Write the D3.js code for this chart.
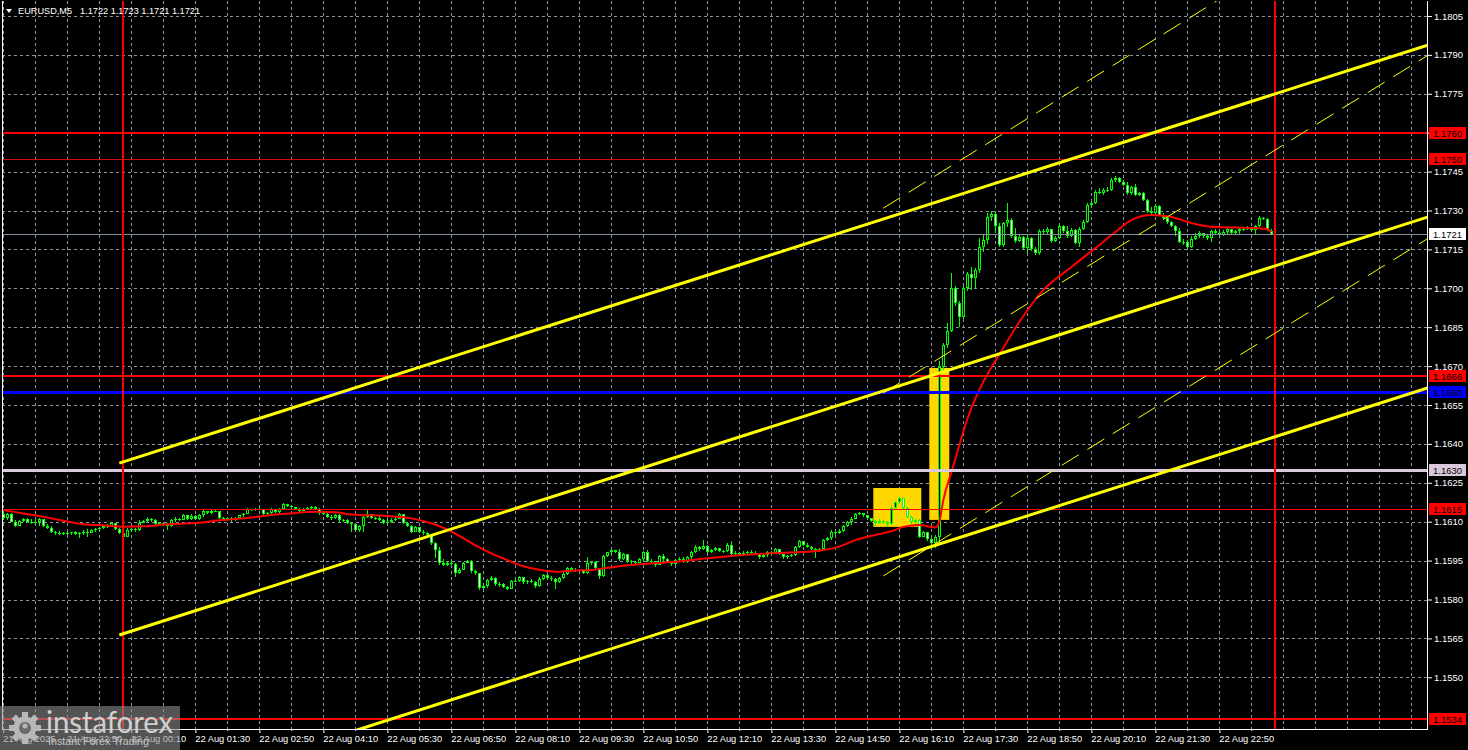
<!DOCTYPE html>
<html><head><meta charset="utf-8">
<script src="https://cdn.jsdelivr.net/npm/d3@7"></script>
<style>body{margin:0;background:#000;overflow:hidden}svg{display:block}</style>
</head><body><svg id="c" width="1468" height="750"></svg>
<script>
// ---------- DATA ----------
const symbolTitle = "EURUSD,M5";
const headerOHLC = "1.1722 1.1723 1.1721 1.1721";
const firstBar = -30;   // bar index of 21 Aug 21:30 (0 = 22 Aug 00:00), M5 bars
const open = [
1.16128,1.16113,1.16128,1.16100,1.16085,1.16104,1.16110,1.16098,1.16094,1.16100,
1.16110,1.16085,1.16075,1.16060,1.16056,1.16055,1.16058,1.16055,1.16059,1.16054,
1.16058,1.16062,1.16058,1.16068,1.16071,1.16074,1.16084,1.16080,1.16094,1.16072,
1.16058,1.16042,1.16068,1.16070,1.16068,1.16096,1.16102,1.16112,1.16106,1.16090,
1.16096,1.16088,1.16084,1.16108,1.16112,1.16108,1.16124,1.16112,1.16122,1.16110,
1.16124,1.16140,1.16134,1.16142,1.16140,1.16114,1.16108,1.16114,1.16106,1.16116,
1.16124,1.16130,1.16148,1.16145,1.16150,1.16148,1.16130,1.16134,1.16148,1.16138,
1.16150,1.16168,1.16160,1.16155,1.16148,1.16142,1.16150,1.16152,1.16155,1.16150,
1.16135,1.16130,1.16120,1.16114,1.16126,1.16106,1.16108,1.16094,1.16090,1.16068,
1.16082,1.16118,1.16128,1.16114,1.16116,1.16108,1.16096,1.16098,1.16108,1.16112,
1.16128,1.16096,1.16084,1.16062,1.16078,1.16062,1.16056,1.16048,1.16018,1.15990,
1.15940,1.15934,1.15942,1.15936,1.15902,1.15914,1.15942,1.15948,1.15910,1.15902,
1.15846,1.15852,1.15875,1.15884,1.15858,1.15860,1.15850,1.15842,1.15872,1.15870,
1.15886,1.15866,1.15870,1.15866,1.15852,1.15880,1.15894,1.15884,1.15878,1.15868,
1.15884,1.15898,1.15920,1.15914,1.15912,1.15914,1.15904,1.15940,1.15946,1.15920,
1.15890,1.15968,1.15982,1.15990,1.15984,1.15956,1.15974,1.15948,1.15944,1.15942,
1.15956,1.15984,1.15950,1.15948,1.15934,1.15968,1.15956,1.15946,1.15936,1.15952,
1.15958,1.15944,1.15962,1.15982,1.16004,1.15994,1.16006,1.15982,1.15992,1.15998,
1.15988,1.15986,1.16010,1.15975,1.15980,1.15972,1.15980,1.15984,1.15978,1.15976,
1.15964,1.15970,1.15982,1.15978,1.15994,1.15974,1.15962,1.15968,1.15970,1.16002,
1.16024,1.16012,1.16004,1.15996,1.15986,1.15994,1.16028,1.16036,1.16060,1.16058,
1.16066,1.16084,1.16100,1.16112,1.16128,1.16132,1.16124,1.16114,1.16104,1.16096,
1.16104,1.16100,1.16090,1.16152,1.16176,1.16190,1.16154,1.16120,1.16098,1.16108,
1.16042,1.16060,1.16032,1.16016,1.16042,1.16698,1.16780,1.16834,1.17002,1.16942,
1.16890,1.17000,1.17056,1.17040,1.17070,1.17160,1.17186,1.17276,1.17288,1.17240,
1.17168,1.17250,1.17262,1.17200,1.17182,1.17198,1.17156,1.17195,1.17150,1.17135,
1.17220,1.17218,1.17228,1.17182,1.17195,1.17240,1.17222,1.17200,1.17226,1.17175,
1.17230,1.17255,1.17321,1.17330,1.17373,1.17366,1.17380,1.17379,1.17418,1.17424,
1.17411,1.17399,1.17366,1.17392,1.17360,1.17366,1.17341,1.17300,1.17290,1.17318,
1.17284,1.17270,1.17255,1.17240,1.17222,1.17180,1.17178,1.17160,1.17190,1.17200,
1.17212,1.17200,1.17193,1.17220,1.17212,1.17206,1.17218,1.17228,1.17212,1.17222,
1.17230,1.17228,1.17234,1.17226,1.17240,1.17272,1.17268,1.17220];
const high = [
1.16140,1.16135,1.16132,1.16106,1.16108,1.16115,1.16116,1.16110,1.16112,1.16115,
1.16112,1.16090,1.16082,1.16066,1.16063,1.16062,1.16063,1.16062,1.16063,1.16062,
1.16068,1.16070,1.16072,1.16075,1.16078,1.16088,1.16090,1.16098,1.16096,1.16076,
1.16062,1.16074,1.16074,1.16075,1.16106,1.16108,1.16118,1.16116,1.16110,1.16100,
1.16100,1.16094,1.16112,1.16118,1.16116,1.16130,1.16126,1.16128,1.16124,1.16128,
1.16144,1.16142,1.16146,1.16150,1.16142,1.16118,1.16118,1.16118,1.16118,1.16126,
1.16134,1.16152,1.16150,1.16154,1.16155,1.16150,1.16138,1.16152,1.16150,1.16154,
1.16172,1.16170,1.16165,1.16158,1.16152,1.16154,1.16156,1.16160,1.16160,1.16152,
1.16140,1.16134,1.16124,1.16130,1.16128,1.16112,1.16110,1.16100,1.16092,1.16086,
1.16122,1.16150,1.16130,1.16120,1.16122,1.16112,1.16110,1.16114,1.16118,1.16134,
1.16130,1.16100,1.16088,1.16084,1.16080,1.16068,1.16060,1.16052,1.16022,1.16004,
1.15956,1.15948,1.15955,1.15940,1.15920,1.15946,1.15954,1.15952,1.15912,1.15904,
1.15862,1.15880,1.15890,1.15888,1.15866,1.15862,1.15852,1.15875,1.15882,1.15890,
1.15888,1.15874,1.15878,1.15870,1.15885,1.15898,1.15898,1.15892,1.15882,1.15888,
1.15906,1.15924,1.15926,1.15920,1.15918,1.15916,1.15962,1.15950,1.15948,1.15922,
1.15972,1.15985,1.15994,1.15992,1.15995,1.15980,1.15976,1.15952,1.15950,1.15960,
1.15988,1.15990,1.15958,1.15950,1.15972,1.15974,1.15960,1.15950,1.15956,1.15962,
1.15962,1.15966,1.15986,1.16010,1.16008,1.16030,1.16010,1.15996,1.16004,1.16000,
1.15992,1.16016,1.16026,1.15986,1.15984,1.15986,1.15988,1.15990,1.15986,1.15978,
1.15976,1.15986,1.15986,1.16000,1.15996,1.15976,1.15972,1.15974,1.16008,1.16030,
1.16026,1.16016,1.16006,1.16000,1.16000,1.16034,1.16040,1.16068,1.16064,1.16070,
1.16088,1.16104,1.16118,1.16132,1.16136,1.16134,1.16126,1.16116,1.16108,1.16110,
1.16108,1.16104,1.16160,1.16180,1.16194,1.16192,1.16158,1.16122,1.16112,1.16110,
1.16064,1.16062,1.16036,1.16048,1.16720,1.16790,1.16866,1.17058,1.17010,1.16950,
1.17010,1.17062,1.17082,1.17078,1.17195,1.17210,1.17290,1.17300,1.17300,1.17250,
1.17255,1.17328,1.17270,1.17232,1.17205,1.17200,1.17205,1.17198,1.17160,1.17228,
1.17228,1.17235,1.17230,1.17200,1.17250,1.17246,1.17240,1.17232,1.17228,1.17235,
1.17262,1.17330,1.17335,1.17378,1.17385,1.17385,1.17392,1.17424,1.17432,1.17430,
1.17418,1.17410,1.17395,1.17402,1.17372,1.17370,1.17345,1.17312,1.17325,1.17320,
1.17290,1.17275,1.17260,1.17245,1.17232,1.17190,1.17185,1.17200,1.17212,1.17222,
1.17215,1.17205,1.17226,1.17228,1.17220,1.17225,1.17236,1.17230,1.17226,1.17232,
1.17236,1.17240,1.17238,1.17245,1.17280,1.17276,1.17272,1.17230];
const low = [
1.16108,1.16105,1.16098,1.16078,1.16082,1.16098,1.16094,1.16090,1.16090,1.16085,
1.16080,1.16070,1.16058,1.16050,1.16050,1.16049,1.16050,1.16048,1.16050,1.16036,
1.16050,1.16040,1.16055,1.16060,1.16062,1.16070,1.16076,1.16078,1.16068,1.16052,
1.16036,1.16040,1.16062,1.16062,1.16065,1.16094,1.16098,1.16100,1.16085,1.16086,
1.16082,1.16068,1.16080,1.16100,1.16102,1.16106,1.16108,1.16108,1.16106,1.16106,
1.16120,1.16130,1.16130,1.16136,1.16110,1.16104,1.16104,1.16100,1.16104,1.16110,
1.16120,1.16128,1.16140,1.16142,1.16144,1.16126,1.16126,1.16130,1.16134,1.16135,
1.16148,1.16155,1.16150,1.16145,1.16138,1.16140,1.16144,1.16146,1.16144,1.16126,
1.16124,1.16116,1.16108,1.16110,1.16100,1.16100,1.16090,1.16060,1.16064,1.16062,
1.16060,1.16114,1.16110,1.16108,1.16104,1.16092,1.16090,1.16094,1.16102,1.16110,
1.16092,1.16078,1.16056,1.16060,1.16058,1.16050,1.16042,1.16010,1.15960,1.15932,
1.15928,1.15930,1.15928,1.15888,1.15898,1.15912,1.15940,1.15904,1.15896,1.15836,
1.15840,1.15846,1.15870,1.15852,1.15850,1.15844,1.15836,1.15840,1.15866,1.15866,
1.15860,1.15860,1.15862,1.15846,1.15850,1.15876,1.15880,1.15872,1.15840,1.15862,
1.15880,1.15895,1.15910,1.15906,1.15906,1.15898,1.15900,1.15932,1.15916,1.15880,
1.15886,1.15962,1.15975,1.15980,1.15950,1.15952,1.15942,1.15936,1.15936,1.15940,
1.15950,1.15944,1.15942,1.15926,1.15932,1.15950,1.15942,1.15930,1.15932,1.15948,
1.15940,1.15940,1.15958,1.15978,1.15988,1.15990,1.15978,1.15978,1.15986,1.15984,
1.15980,1.15982,1.15970,1.15972,1.15966,1.15968,1.15976,1.15972,1.15970,1.15958,
1.15960,1.15964,1.15972,1.15974,1.15970,1.15956,1.15958,1.15962,1.15966,1.15998,
1.16006,1.15998,1.15990,1.15960,1.15982,1.15990,1.16024,1.16030,1.16050,1.16052,
1.16060,1.16080,1.16088,1.16110,1.16124,1.16118,1.16110,1.16098,1.16082,1.16090,
1.16092,1.16084,1.16086,1.16148,1.16168,1.16150,1.16116,1.16092,1.16084,1.16038,
1.16040,1.16026,1.15995,1.16000,1.16010,1.16672,1.16770,1.16830,1.16930,1.16850,
1.16880,1.16990,1.16995,1.16998,1.17060,1.17140,1.17170,1.17260,1.17215,1.17160,
1.17160,1.17236,1.17195,1.17175,1.17178,1.17150,1.17132,1.17145,1.17128,1.17130,
1.17210,1.17205,1.17175,1.17178,1.17190,1.17215,1.17195,1.17198,1.17170,1.17160,
1.17225,1.17250,1.17315,1.17325,1.17362,1.17360,1.17372,1.17375,1.17408,1.17405,
1.17395,1.17360,1.17358,1.17355,1.17355,1.17335,1.17290,1.17280,1.17285,1.17280,
1.17262,1.17248,1.17235,1.17200,1.17175,1.17168,1.17150,1.17155,1.17185,1.17195,
1.17195,1.17188,1.17180,1.17205,1.17200,1.17200,1.17205,1.17208,1.17205,1.17208,
1.17222,1.17224,1.17220,1.17210,1.17236,1.17262,1.17220,1.17210];
const close = [
1.16113,1.16128,1.16100,1.16085,1.16104,1.16110,1.16098,1.16094,1.16100,1.16110,
1.16085,1.16075,1.16060,1.16056,1.16055,1.16058,1.16055,1.16059,1.16054,1.16058,
1.16062,1.16058,1.16068,1.16071,1.16074,1.16084,1.16080,1.16094,1.16072,1.16058,
1.16042,1.16068,1.16070,1.16068,1.16096,1.16102,1.16112,1.16106,1.16090,1.16096,
1.16088,1.16084,1.16108,1.16112,1.16108,1.16124,1.16112,1.16122,1.16110,1.16124,
1.16140,1.16134,1.16142,1.16140,1.16114,1.16108,1.16114,1.16106,1.16116,1.16124,
1.16130,1.16148,1.16145,1.16150,1.16148,1.16130,1.16134,1.16148,1.16138,1.16150,
1.16168,1.16160,1.16155,1.16148,1.16142,1.16150,1.16152,1.16155,1.16150,1.16135,
1.16130,1.16120,1.16114,1.16126,1.16106,1.16108,1.16094,1.16090,1.16068,1.16082,
1.16118,1.16128,1.16114,1.16116,1.16108,1.16096,1.16098,1.16108,1.16112,1.16128,
1.16096,1.16084,1.16062,1.16078,1.16062,1.16056,1.16048,1.16018,1.15990,1.15940,
1.15934,1.15942,1.15936,1.15902,1.15914,1.15942,1.15948,1.15910,1.15902,1.15846,
1.15852,1.15875,1.15884,1.15858,1.15860,1.15850,1.15842,1.15872,1.15870,1.15886,
1.15866,1.15870,1.15866,1.15852,1.15880,1.15894,1.15884,1.15878,1.15868,1.15884,
1.15898,1.15920,1.15914,1.15912,1.15914,1.15904,1.15940,1.15946,1.15920,1.15890,
1.15968,1.15982,1.15990,1.15984,1.15956,1.15974,1.15948,1.15944,1.15942,1.15956,
1.15984,1.15950,1.15948,1.15934,1.15968,1.15956,1.15946,1.15936,1.15952,1.15958,
1.15944,1.15962,1.15982,1.16004,1.15994,1.16006,1.15982,1.15992,1.15998,1.15988,
1.15986,1.16010,1.15975,1.15980,1.15972,1.15980,1.15984,1.15978,1.15976,1.15964,
1.15970,1.15982,1.15978,1.15994,1.15974,1.15962,1.15968,1.15970,1.16002,1.16024,
1.16012,1.16004,1.15996,1.15986,1.15994,1.16028,1.16036,1.16060,1.16058,1.16066,
1.16084,1.16100,1.16112,1.16128,1.16132,1.16124,1.16114,1.16104,1.16096,1.16104,
1.16100,1.16090,1.16152,1.16176,1.16190,1.16154,1.16120,1.16098,1.16108,1.16042,
1.16060,1.16032,1.16016,1.16042,1.16698,1.16780,1.16834,1.17002,1.16942,1.16890,
1.17000,1.17056,1.17040,1.17070,1.17160,1.17186,1.17276,1.17288,1.17240,1.17168,
1.17250,1.17262,1.17200,1.17182,1.17198,1.17156,1.17195,1.17150,1.17135,1.17220,
1.17218,1.17228,1.17182,1.17195,1.17240,1.17222,1.17200,1.17226,1.17175,1.17230,
1.17255,1.17321,1.17330,1.17373,1.17366,1.17380,1.17379,1.17418,1.17424,1.17411,
1.17399,1.17366,1.17392,1.17360,1.17366,1.17341,1.17300,1.17290,1.17318,1.17284,
1.17270,1.17255,1.17240,1.17222,1.17180,1.17178,1.17160,1.17190,1.17200,1.17212,
1.17200,1.17193,1.17220,1.17212,1.17206,1.17218,1.17228,1.17212,1.17222,1.17230,
1.17228,1.17234,1.17226,1.17240,1.17272,1.17268,1.17226,1.17210];

// moving average (at these bars)
const maBar = [-30,-25,-20,-15,-10,-5,0,5,11,19,23,28,32,36,42,48,53,57,65,69,73,77,81,87,92,96,100,104,109,113,117,121,125,130,138,146,154,162,171,175,179,183,188,192,195,199,203,204,205,207,209,211,213,217,219,224,230,237,244,248,252,257,262,267,273,282,286,287];
const maValue = [1.16145,1.16132,1.16119,1.16104,1.16090,1.16086,1.16081,1.16082,1.16090,1.16096,1.16104,1.16110,1.16116,1.16124,1.16132,1.16138,1.16136,1.16128,1.16123,1.16119,1.16110,1.16094,1.16070,1.16018,1.15978,1.15952,1.15928,1.15915,1.15907,1.15912,1.15914,1.15922,1.15930,1.15937,1.15946,1.15959,1.15971,1.15978,1.15984,1.15991,1.16004,1.16029,1.16049,1.16063,1.16080,1.16087,1.16078,1.16100,1.16183,1.16290,1.16395,1.16495,1.16575,1.16695,1.16745,1.16870,1.16993,1.17082,1.17167,1.17217,1.17263,1.17283,1.17275,1.17252,1.17236,1.17233,1.17229,1.17217];

const priceTicks = [1.1550,1.1565,1.1580,1.1595,1.1610,1.1625,1.1640,1.1655,1.1670,1.1685,1.1700,1.1715,1.1730,1.1745,1.1760,1.1775,1.1790,1.1805];
const timeLabels = ["21 Aug 2025","21 Aug 22:50","22 Aug 00:10","22 Aug 01:30","22 Aug 02:50","22 Aug 04:10","22 Aug 05:30","22 Aug 06:50","22 Aug 08:10","22 Aug 09:30","22 Aug 10:50","22 Aug 12:10","22 Aug 13:30","22 Aug 14:50","22 Aug 16:10","22 Aug 17:30","22 Aug 18:50","22 Aug 20:10","22 Aug 21:30","22 Aug 22:50"];

// horizontal levels
const levelPrices = [1.1760, 1.1750, 1.1666, 1.1660, 1.1630, 1.1615, 1.1534];
// vertical day separators (bar index: 22 Aug 00:00, 23 Aug 00:00)
const vlineBars = [0, 288];
// yellow rectangles [startBar, endBar, topPrice, bottomPrice]
const boxStart = [188, 202], boxEnd = [200, 207];
const boxTop = [1.16230, 1.16693], boxBottom = [1.16080, 1.16107];
// main channel (bar -1 -> bar 287)
const chanBars = [-1, 287];
const chanUpper = [1.16326, 1.17745];
const chanMiddle = [1.15663, 1.17082];
const chanLower = [1.15004, 1.16423];
// thin dashed channel (bar 190 -> bar 287)
const thinBars = [190, 287];
const thinUpper = [1.17309, 1.18239];
const thinMiddle = [1.16596, 1.17524];
const thinLower = [1.15891, 1.16818];

// ---------- DRAW ----------
const L = 2, R = 1427, T = 1, B = 729;
const svg = d3.select('#c');
const FONT = "'Liberation Sans', Arial, sans-serif";
svg.append('rect').attr('width',1468).attr('height',750).attr('fill','#000');

const x = d3.scaleLinear().domain([-30, 287]).range([3.3, 1271.3]);
const y = d3.scaleLinear().domain([1.1550, 1.1805]).range([677.3, 16]);

svg.append('clipPath').attr('id','plot').append('rect')
  .attr('x',L).attr('y',T).attr('width',R-L).attr('height',B-T);
const plot = svg.append('g').attr('clip-path','url(#plot)');

// grid
const gridCol = '#8a96a4';
const vGrid = d3.range(-30, 330, 8);
plot.append('g').selectAll('line').data(vGrid).join('line')
  .attr('x1',d=>Math.round(x(d))+0.5).attr('x2',d=>Math.round(x(d))+0.5)
  .attr('y1',T).attr('y2',B).attr('stroke',gridCol).attr('stroke-width',1)
  .attr('stroke-dasharray','3,3');
plot.append('g').selectAll('line').data(priceTicks).join('line')
  .attr('x1',L).attr('x2',R)
  .attr('y1',d=>Math.round(y(d))+0.5).attr('y2',d=>Math.round(y(d))+0.5)
  .attr('stroke',gridCol).attr('stroke-width',1).attr('stroke-dasharray','3,3');

// yellow rectangles
plot.append('g').selectAll('rect').data(boxStart).join('rect')
  .attr('x',(d,i)=>x(d)-2).attr('width',(d,i)=>x(boxEnd[i])-x(d))
  .attr('y',(d,i)=>y(boxTop[i])).attr('height',(d,i)=>y(boxBottom[i])-y(boxTop[i]))
  .attr('fill','#ffd700');

// candles
const cg = plot.append('g').attr('shape-rendering','crispEdges');
open.forEach((o,i)=>{
  const n = firstBar + i;
  const xc = Math.round(x(n));
  const c = close[i], h = high[i], l = low[i];
  const yh = Math.round(y(h)), yl = Math.round(y(l));
  cg.append('rect').attr('x',xc).attr('y',yh).attr('width',1).attr('height',Math.max(1,yl-yh)).attr('fill','#00ff00');
  const yt = Math.round(y(Math.max(o,c))), yb = Math.round(y(Math.min(o,c)));
  const bh = Math.max(1, yb-yt);
  cg.append('rect').attr('x',xc-1).attr('y',yt).attr('width',3).attr('height',bh).attr('fill','#00ff00');
  if (bh > 2) {
    cg.append('rect').attr('x',xc).attr('y',yt+1).attr('width',1).attr('height',bh-2)
      .attr('fill', c >= o ? '#000' : '#fff');
  }
});

// moving average
plot.append('path').datum(maBar.map((b,i)=>[b,maValue[i]]))
  .attr('d', d3.line().x(d=>x(d[0])).y(d=>y(d[1])).curve(d3.curveMonotoneX))
  .attr('fill','none').attr('stroke','#ff0000').attr('stroke-width',2);

// horizontal levels
const levelColor = ['#ff0000','#d01010','#ff0000','#0000ff','#dcc8dc','#ff0000','#ff0000'];
const levelWidth = [2,1,2,3,3,1,2];
const hl = plot.append('g').attr('shape-rendering','crispEdges');
hl.selectAll('rect').data(levelPrices).join('rect')
  .attr('x',L).attr('width',R-L)
  .attr('y',(d,i)=>Math.round(y(d))-Math.floor(levelWidth[i]/2))
  .attr('height',(d,i)=>levelWidth[i])
  .attr('fill',(d,i)=>levelColor[i]);
// current price line
const lastClose = close[close.length-1];
hl.append('rect').attr('x',L).attr('width',R-L)
  .attr('y',Math.round(y(lastClose))).attr('height',1).attr('fill','#8090a0');

// vertical day lines
hl.append('g').selectAll('rect').data(vlineBars).join('rect')
  .attr('x',d=>Math.round(x(d))-1).attr('width',2).attr('y',T).attr('height',B-T)
  .attr('fill','#ff0000');

// rays helper
function ray(bars, prices, xEnd){
  const s = (y(prices[1])-y(prices[0]))/(x(bars[1])-x(bars[0]));
  const x0 = x(bars[0]), y0 = y(prices[0]);
  return [[x0,y0],[xEnd, y0 + s*(xEnd-x0)]];
}
const lineGen = d3.line();
[chanUpper, chanMiddle, chanLower].forEach(p=>{
  plot.append('path').attr('d', lineGen(ray(chanBars,p,1500)))
    .attr('stroke','#ffff00').attr('stroke-width',3).attr('fill','none');
});
[thinUpper, thinMiddle, thinLower].forEach(p=>{
  plot.append('path').attr('d', lineGen(ray(thinBars,p,1500)))
    .attr('stroke','#ffff00').attr('stroke-width',1).attr('fill','none')
    .attr('stroke-dasharray','20,10');
});

// frame
const fr = svg.append('g').attr('stroke','#fff').attr('stroke-width',1).attr('shape-rendering','crispEdges');
fr.append('line').attr('x1',L+0.5).attr('x2',L+0.5).attr('y1',T).attr('y2',B+0.5);
fr.append('line').attr('x1',R+0.5).attr('x2',R+0.5).attr('y1',T).attr('y2',B+0.5);
fr.append('line').attr('x1',L).attr('x2',R+1).attr('y1',B+0.5).attr('y2',B+0.5);

// right price axis
const ay = svg.append('g').attr('transform',`translate(${R+1},0)`)
  .call(d3.axisRight(y).tickValues(priceTicks).tickFormat(d3.format('.4f')).tickSize(4).tickPadding(2));
ay.select('.domain').remove();
ay.selectAll('line').attr('stroke','#fff');
ay.selectAll('text').attr('fill','#fff').attr('font-family',FONT).attr('font-size',9.5).attr('x',6);

// bottom time axis
const labelBars = timeLabels.map((t,i)=>firstBar + 16*i);
const ax = svg.append('g').attr('transform',`translate(0,${B})`)
  .call(d3.axisBottom(x).tickValues(labelBars).tickFormat((d,i)=>timeLabels[i]).tickSize(4));
ax.select('.domain').remove();
ax.selectAll('line').attr('stroke','#fff');
ax.selectAll('text').attr('fill','#fff').attr('font-family',FONT).attr('font-size',9.3)
  .attr('text-anchor','start').attr('y',13).attr('dy',null).attr('dx',-0.5);
const minorBars = labelBars.map(b=>b+8);
const ax2 = svg.append('g').attr('transform',`translate(0,${B})`)
  .call(d3.axisBottom(x).tickValues(minorBars).tickFormat('').tickSize(2));
ax2.select('.domain').remove();
ax2.selectAll('line').attr('stroke','#fff');

// level label boxes
const boxFill = ['#ff0000','#ff0000','#ff0000','#0000ff','#dcc8dc','#ff0000','#ff0000'];
const lb = svg.append('g');
levelPrices.concat([lastClose]).forEach((p,i)=>{
  const yy = Math.round(y(p));
  const fill = i < levelPrices.length ? boxFill[i] : '#ffffff';
  lb.append('rect').attr('x',R+2).attr('y',yy-6).attr('width',37).attr('height',12).attr('fill',fill);
  lb.append('text').attr('x',R+6).attr('y',yy+4).attr('fill','#000')
    .attr('font-family',FONT).attr('font-size',9.5).text(d3.format('.4f')(p));
});

// header
svg.append('path').attr('d','M6,9 L12,9 L9,13 Z').attr('fill','#fff');
svg.append('text').attr('x',18).attr('y',14).attr('fill','#fff').attr('font-family',FONT).attr('font-size',9.2).text(symbolTitle);
svg.append('text').attr('x',80).attr('y',14).attr('fill','#fff').attr('font-family',FONT).attr('font-size',9.2).text(headerOHLC);

// logo
const logo = svg.append('g');
logo.append('rect').attr('x',0).attr('y',706).attr('width',180).attr('height',44).attr('fill','rgba(140,140,140,0.6)');
const gear = logo.append('g').attr('transform','translate(25,728)');
d3.range(8).forEach(k=>{
  gear.append('rect').attr('x',-3).attr('y',-16).attr('width',6).attr('height',8)
    .attr('transform',`rotate(${k*45})`).attr('fill','#b8b8b8');
});
gear.append('circle').attr('r',11.5).attr('fill','#b8b8b8');
gear.append('circle').attr('r',6).attr('fill','#6a6a6a');
gear.append('circle').attr('cy',-2).attr('r',2.5).attr('fill','#b8b8b8');
logo.append('text').attr('x',46).attr('y',733).attr('fill','#d0d0d0').attr('font-family','Lato, sans-serif')
  .attr('font-size',30).attr('textLength',127).attr('lengthAdjust','spacingAndGlyphs').text('instaforex');
logo.append('text').attr('x',48).attr('y',745).attr('fill','#c4c4c4').attr('font-family',FONT)
  .attr('font-size',11).attr('textLength',101).attr('lengthAdjust','spacingAndGlyphs').text('Instant Forex Trading');
</script>
</body></html>
